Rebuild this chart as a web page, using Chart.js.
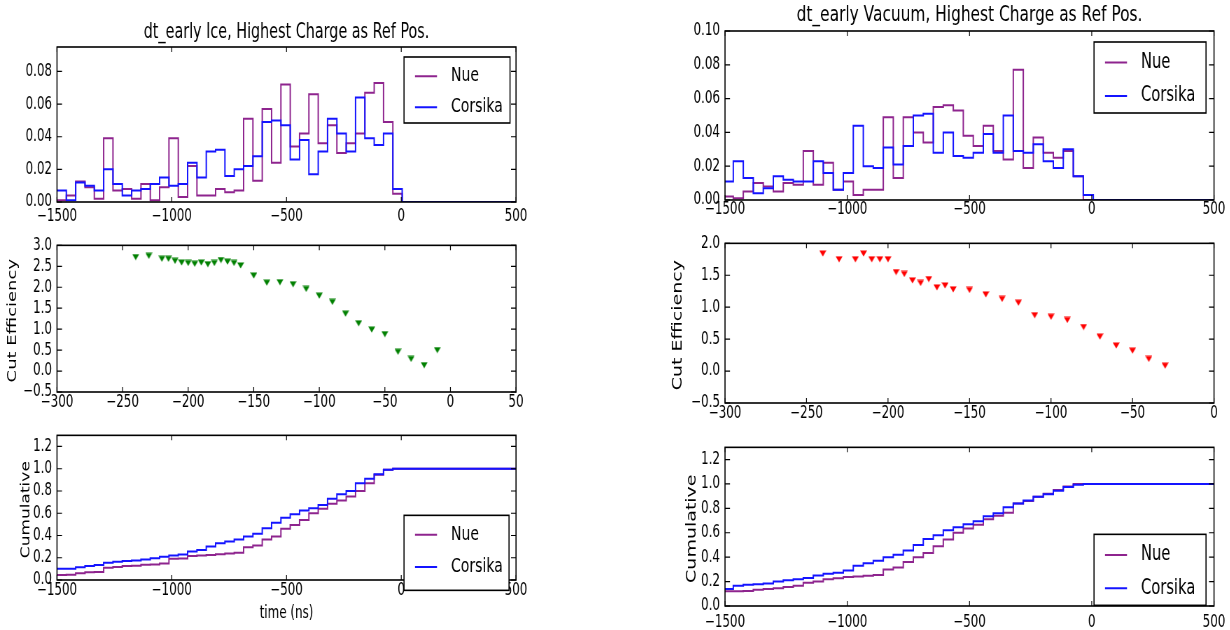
<!DOCTYPE html>
<html>
<head>
<meta charset="utf-8">
<script src="https://cdn.jsdelivr.net/npm/chart.js@4.4.1/dist/chart.umd.min.js"></script>
<style>
  body { margin: 0; background: #fff; }
  #page { position: relative; width: 1230px; height: 630px; overflow: hidden; background: #fff; }
  canvas { position: absolute; transform-origin: 0 0; }
</style>
</head>
<body>
<div id="page">
  <canvas id="iceHist"></canvas>
  <canvas id="iceEff"></canvas>
  <canvas id="iceCum"></canvas>
  <canvas id="vacHist"></canvas>
  <canvas id="vacEff"></canvas>
  <canvas id="vacCum"></canvas>
</div>
<script>
// ===== DATA =====
// histogram binning (ns)
const iceBinStart = -1500, iceBinWidth = 40.65;
const vacBinStart = -1507, vacBinWidth = 40.9;

// dt_early Ice, normalised histograms
const iceNueHist = [0.001, 0.004, 0.0125, 0.009, 0.002, 0.039, 0.007, 0.008, 0.002, 0.011,
  0.001, 0.009, 0.039, 0.003, 0.022, 0.004, 0.004, 0.008, 0.006, 0.007,
  0.051, 0.013, 0.057, 0.024, 0.072, 0.034, 0.042, 0.066, 0.036, 0.047,
  0.030, 0.036, 0.042, 0.067, 0.073, 0.049, 0.005];
const iceCorsikaHist = [0.007, 0.001, 0.012, 0.010, 0.007, 0.020, 0.011, 0.004, 0.007, 0.008,
  0.011, 0.015, 0.010, 0.011, 0.024, 0.015, 0.031, 0.032, 0.016, 0.020,
  0.022, 0.028, 0.049, 0.050, 0.047, 0.026, 0.038, 0.017, 0.031, 0.051,
  0.042, 0.031, 0.064, 0.039, 0.035, 0.042, 0.008];

// dt_early Vacuum, normalised histograms
const vacNueHist = [0.002, 0.001, 0.005, 0.010, 0.008, 0.005, 0.010, 0.009, 0.029, 0.009,
  0.022, 0.006, 0.011, 0.003, 0.006, 0.006, 0.049, 0.013, 0.049, 0.040,
  0.034, 0.055, 0.056, 0.053, 0.038, 0.032, 0.044, 0.029, 0.024, 0.077,
  0.019, 0.037, 0.028, 0.025, 0.029, 0.014, 0.000];
const vacCorsikaHist = [0.011, 0.023, 0.013, 0.004, 0.007, 0.014, 0.012, 0.011, 0.011, 0.023,
  0.016, 0.006, 0.016, 0.044, 0.020, 0.019, 0.031, 0.021, 0.032, 0.050,
  0.051, 0.028, 0.040, 0.026, 0.025, 0.028, 0.039, 0.028, 0.050, 0.029,
  0.028, 0.033, 0.023, 0.019, 0.030, 0.014, 0.003];

// cumulative distributions (same bins)
const iceNueCum = [0.045, 0.048, 0.060, 0.070, 0.072, 0.110, 0.117, 0.125, 0.127, 0.138,
  0.140, 0.148, 0.190, 0.193, 0.215, 0.220, 0.224, 0.232, 0.238, 0.245,
  0.295, 0.310, 0.365, 0.390, 0.460, 0.495, 0.540, 0.600, 0.640, 0.685,
  0.715, 0.750, 0.800, 0.870, 0.945, 0.990, 1.000];
const iceCorsikaCum = [0.100, 0.100, 0.115, 0.125, 0.135, 0.155, 0.165, 0.170, 0.175, 0.185,
  0.195, 0.210, 0.220, 0.230, 0.255, 0.270, 0.300, 0.330, 0.345, 0.365,
  0.390, 0.415, 0.465, 0.515, 0.560, 0.590, 0.625, 0.645, 0.675, 0.730,
  0.770, 0.800, 0.870, 0.910, 0.950, 0.990, 1.000];
const vacNueCum = [0.120, 0.120, 0.123, 0.133, 0.140, 0.145, 0.155, 0.165, 0.190, 0.200,
  0.220, 0.228, 0.238, 0.242, 0.248, 0.255, 0.300, 0.315, 0.360, 0.400,
  0.435, 0.490, 0.545, 0.600, 0.635, 0.665, 0.710, 0.740, 0.765, 0.840,
  0.860, 0.895, 0.920, 0.950, 0.980, 1.000, 1.000];
const vacCorsikaCum = [0.140, 0.165, 0.175, 0.178, 0.185, 0.200, 0.210, 0.220, 0.230, 0.250,
  0.265, 0.272, 0.290, 0.330, 0.350, 0.370, 0.400, 0.420, 0.455, 0.500,
  0.550, 0.580, 0.620, 0.645, 0.670, 0.695, 0.735, 0.760, 0.810, 0.840,
  0.865, 0.895, 0.915, 0.945, 0.975, 0.993, 1.000];

// cut efficiency vs cut value
const iceCutX = [-240, -230, -220, -215, -210, -205, -200, -195, -190, -185, -180, -175, -170, -165, -160,
  -150, -140, -130, -120, -110, -100, -90, -80, -70, -60, -50, -40, -30, -20, -10];
const iceCutEff = [2.72, 2.75, 2.68, 2.68, 2.63, 2.59, 2.58, 2.56, 2.59, 2.55, 2.58, 2.65, 2.61, 2.58, 2.52,
  2.28, 2.11, 2.12, 2.07, 1.96, 1.80, 1.65, 1.37, 1.14, 0.99, 0.88, 0.46, 0.29, 0.14, 0.50];
const vacCutX = [-240, -230, -220, -215, -210, -205, -200, -195, -190, -185, -180, -175, -170, -165, -160,
  -150, -140, -130, -120, -110, -100, -90, -80, -70, -60, -50, -40, -30];
const vacCutEff = [1.84, 1.75, 1.75, 1.84, 1.75, 1.75, 1.75, 1.55, 1.52, 1.42, 1.38, 1.44, 1.31, 1.34, 1.28,
  1.27, 1.20, 1.13, 1.07, 0.875, 0.85, 0.80, 0.69, 0.54, 0.40, 0.32, 0.19, 0.085];

// tick labels
const timeTicks = [-1500, -1000, -500, 0, 500];
const iceHistTicks = [0, 0.02, 0.04, 0.06, 0.08];
const vacHistTicks = [0, 0.02, 0.04, 0.06, 0.08, 0.10];
const iceCutTicks = [-300, -250, -200, -150, -100, -50, 0, 50];
const vacCutTicks = [-300, -250, -200, -150, -100, -50, 0];
const iceEffTicks = [-0.5, 0, 0.5, 1, 1.5, 2, 2.5, 3];
const vacEffTicks = [-0.5, 0, 0.5, 1, 1.5, 2];
const cumTicks = [0, 0.2, 0.4, 0.6, 0.8, 1.0, 1.2];

// ===== STYLE =====
// the reference figure is squeezed horizontally; draw wide, then squeeze each canvas
const SQUISH = 0.7;
const FONT = "'DejaVu Sans', sans-serif";
const NUE_COLOR = "#8e248e";
const CORSIKA_COLOR = "#1414ff";

const px = v => v / SQUISH;   // page px (horizontal) -> canvas px

function fmt(v, dec) {
  return Number(v).toFixed(dec).replace("-", "\u2212");
}

function histPoints(start, width, vals, xEnd) {
  const pts = vals.map((v, k) => ({ x: start + k * width, y: v }));
  pts.push({ x: start + vals.length * width, y: 0 });
  pts.push({ x: xEnd, y: 0 });
  return pts;
}

function cumPoints(start, width, vals, xEnd) {
  const pts = vals.map((v, k) => ({ x: start + k * width, y: v }));
  pts.push({ x: xEnd, y: vals[vals.length - 1] });
  return pts;
}

function stepSet(label, color, pts, order) {
  return {
    label: label, data: pts, borderColor: color, borderWidth: 2,
    stepped: true, pointRadius: 0, fill: false, order: order
  };
}

// downward triangle marker (matplotlib 'v')
function triMarker(color) {
  const c = document.createElement("canvas");
  c.width = 10; c.height = 7;
  const g = c.getContext("2d");
  g.fillStyle = color;
  g.beginPath();
  g.moveTo(0, 0.5); g.lineTo(10, 0.5); g.lineTo(5, 6.5); g.closePath();
  g.fill();
  return c;
}

// ===== MATPLOTLIB-LIKE DECORATION =====
const mplDecor = {
  id: "mplDecor",
  afterDatasetsDraw(chart, args, o) {
    const ctx = chart.ctx, a = chart.chartArea;
    const xs = chart.scales.x, ys = chart.scales.y;
    ctx.save();
    ctx.strokeStyle = "#000";
    ctx.lineWidth = 1.2;
    ctx.beginPath();
    xs.ticks.forEach(t => {
      const p = xs.getPixelForValue(t.value);
      ctx.moveTo(p, a.bottom); ctx.lineTo(p, a.bottom - 5);
      ctx.moveTo(p, a.top); ctx.lineTo(p, a.top + 5);
    });
    ys.ticks.forEach(t => {
      const p = ys.getPixelForValue(t.value);
      ctx.moveTo(a.left, p); ctx.lineTo(a.left + px(5), p);
      ctx.moveTo(a.right, p); ctx.lineTo(a.right - px(5), p);
    });
    ctx.stroke();
    ctx.lineWidth = 1.6;
    ctx.strokeRect(a.left, a.top, a.right - a.left, a.bottom - a.top);
    ctx.restore();
  },
  afterDraw(chart, args, o) {
    const ctx = chart.ctx, a = chart.chartArea;
    ctx.save();
    ctx.fillStyle = "#000";
    ctx.textAlign = "center";
    ctx.textBaseline = "middle";
    if (o.title) {
      ctx.font = o.titleSize + "px " + FONT;
      ctx.fillText(o.title, (a.left + a.right) / 2, a.top - o.titleGap);
    }
    if (o.xlabel) {
      ctx.font = "17px " + FONT;
      ctx.fillText(o.xlabel, (a.left + a.right) / 2, a.bottom + 34);
    }
    if (o.ylabel) {
      ctx.save();
      ctx.font = o.ylabelSize + "px " + FONT;
      ctx.translate(a.left - px(o.ylabelGap), (a.top + a.bottom) / 2 + 2);
      ctx.rotate(-Math.PI / 2);
      ctx.fillText(o.ylabel, 0, 0);
      ctx.restore();
    }
    const lg = o.legend;
    if (lg) {
      const x0 = a.right - px(lg.dx + lg.w), y0 = a.top + lg.dy;
      ctx.fillStyle = "#fff";
      ctx.fillRect(x0, y0, px(lg.w), lg.h);
      ctx.strokeStyle = "#000";
      ctx.lineWidth = 1.6;
      ctx.strokeRect(x0, y0, px(lg.w), lg.h);
      ctx.font = lg.size + "px " + FONT;
      ctx.textAlign = "left";
      chart.data.datasets.forEach((ds, i) => {
        const y = y0 + lg.h * lg.rows[i];
        ctx.strokeStyle = ds.borderColor;
        ctx.lineWidth = 2;
        ctx.beginPath();
        ctx.moveTo(x0 + px(11), y); ctx.lineTo(x0 + px(33), y);
        ctx.stroke();
        ctx.fillStyle = "#000";
        ctx.fillText(ds.label, x0 + px(47), y);
      });
    }
    ctx.restore();
  }
};

function axis(min, max, tickVals, dec, pad, fitSize, horizontal) {
  return {
    type: "linear", min: min, max: max,
    grid: { display: false, drawTicks: false },
    border: { display: false },
    afterBuildTicks: s => { s.ticks = tickVals.map(v => ({ value: v })); },
    afterFit: s => { if (horizontal) s.height = fitSize; else s.width = fitSize; },
    ticks: {
      autoSkip: false, maxRotation: 0, padding: pad, color: "#000",
      font: { family: FONT, size: 17 },
      callback: v => fmt(v, dec)
    }
  };
}

// box = canvas rectangle on the page, ax = axes rectangle on the page
function makeChart(id, type, datasets, box, ax, o) {
  const canvas = document.getElementById(id);
  canvas.width = Math.round(px(box.w));
  canvas.height = box.h;
  canvas.style.left = box.x + "px";
  canvas.style.top = box.y + "px";
  canvas.style.transform = "scaleX(" + SQUISH + ")";
  const yWidth = px(ax.x - box.x);
  const padRight = canvas.width - yWidth - px(ax.w);
  const xHeight = box.y + box.h - (ax.y + ax.h);
  return new Chart(canvas, {
    type: type,
    data: { datasets: datasets },
    options: {
      responsive: false, animation: false, events: [],
      layout: { padding: { top: ax.y - box.y, right: padRight, left: 0, bottom: 0 } },
      scales: {
        x: axis(o.xMin, o.xMax, o.xTicks, 0, o.xPad, xHeight, true),
        y: axis(o.yMin, o.yMax, o.yTicks, o.yDec, px(5), yWidth, false)
      },
      plugins: { legend: { display: false }, tooltip: { enabled: false }, mplDecor: o.decor }
    },
    plugins: [mplDecor]
  });
}

// ===== CHARTS =====
makeChart("iceHist", "line", [
  stepSet("Nue", NUE_COLOR, histPoints(iceBinStart, iceBinWidth, iceNueHist, 500), 1),
  stepSet("Corsika", CORSIKA_COLOR, histPoints(iceBinStart, iceBinWidth, iceCorsikaHist, 500), 0)
], { x: 0, y: 0, w: 545, h: 228 }, { x: 57, y: 47, w: 459, h: 155 }, {
  xPad: 4, xMin: -1500, xMax: 500, xTicks: timeTicks,
  yMin: 0, yMax: 0.095, yTicks: iceHistTicks, yDec: 2,
  decor: { title: "dt_early Ice, Highest Charge as Ref Pos.", titleSize: 20.5, titleGap: 14,
    legend: { dx: 6, dy: 10, w: 106, h: 66, size: 20, rows: [0.29, 0.76] } }
});

makeChart("iceEff", "scatter", [{
  label: "eff", data: iceCutX.map((x, i) => ({ x: x, y: iceCutEff[i] })),
  pointStyle: triMarker("#008000")
}], { x: 0, y: 228, w: 545, h: 190 }, { x: 57, y: 235, w: 459, h: 157 }, {
  xPad: 0, xMin: -300, xMax: 50, xTicks: iceCutTicks,
  yMin: -0.5, yMax: 3.0, yTicks: iceEffTicks, yDec: 1,
  decor: { ylabel: "Cut Efficiency", ylabelSize: 18, ylabelGap: 44 }
});

makeChart("iceCum", "line", [
  stepSet("Nue", NUE_COLOR, cumPoints(iceBinStart, iceBinWidth, iceNueCum, 500), 1),
  stepSet("Corsika", CORSIKA_COLOR, cumPoints(iceBinStart, iceBinWidth, iceCorsikaCum, 500), 0)
], { x: 0, y: 418, w: 545, h: 212 }, { x: 57, y: 424, w: 459, h: 156 }, {
  xPad: 0, xMin: -1500, xMax: 500, xTicks: timeTicks,
  yMin: 0, yMax: 1.3, yTicks: cumTicks, yDec: 1,
  decor: { ylabel: "Cumulative", ylabelSize: 17, ylabelGap: 31, xlabel: "time (ns)",
    legend: { dx: 7, dy: 80, w: 105, h: 75, size: 20, rows: [0.26, 0.69] } }
});

makeChart("vacHist", "line", [
  stepSet("Nue", NUE_COLOR, histPoints(vacBinStart, vacBinWidth, vacNueHist, 500), 1),
  stepSet("Corsika", CORSIKA_COLOR, histPoints(vacBinStart, vacBinWidth, vacCorsikaHist, 500), 0)
], { x: 620, y: 0, w: 610, h: 226 }, { x: 725, y: 31, w: 489, h: 169 }, {
  xPad: -1, xMin: -1500, xMax: 500, xTicks: timeTicks,
  yMin: 0, yMax: 0.10, yTicks: vacHistTicks, yDec: 2,
  decor: { title: "dt_early Vacuum, Highest Charge as Ref Pos.", titleSize: 22, titleGap: 16,
    legend: { dx: 8, dy: 11, w: 112, h: 71, size: 21, rows: [0.29, 0.76] } }
});

makeChart("vacEff", "scatter", [{
  label: "eff", data: vacCutX.map((x, i) => ({ x: x, y: vacCutEff[i] })),
  pointStyle: triMarker("#ff0000")
}], { x: 620, y: 226, w: 610, h: 204 }, { x: 725, y: 234, w: 489, h: 169 }, {
  xPad: 0, xMin: -300, xMax: 0, xTicks: vacCutTicks,
  yMin: -0.5, yMax: 2.0, yTicks: vacEffTicks, yDec: 1,
  decor: { ylabel: "Cut Efficiency", ylabelSize: 19, ylabelGap: 47 }
});

makeChart("vacCum", "line", [
  stepSet("Nue", NUE_COLOR, cumPoints(vacBinStart, vacBinWidth, vacNueCum, 500), 1),
  stepSet("Corsika", CORSIKA_COLOR, cumPoints(vacBinStart, vacBinWidth, vacCorsikaCum, 500), 0)
], { x: 620, y: 430, w: 610, h: 200 }, { x: 725, y: 437, w: 489, h: 169 }, {
  xPad: 6, xMin: -1500, xMax: 500, xTicks: timeTicks,
  yMin: 0, yMax: 1.3, yTicks: cumTicks, yDec: 1,
  decor: { ylabel: "Cumulative", ylabelSize: 19, ylabelGap: 33,
    legend: { dx: 8, dy: 87, w: 112, h: 71, size: 21, rows: [0.29, 0.76] } }
});
</script>
</body>
</html>
